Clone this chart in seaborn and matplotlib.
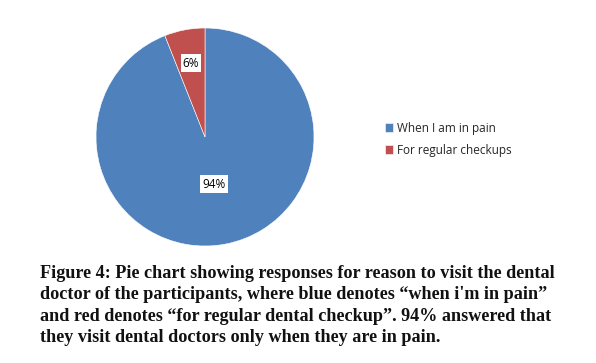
import matplotlib
matplotlib.use("Agg")
import matplotlib.pyplot as plt
import numpy as np
import seaborn as sns

labels = ["When I am in pain", "For regular checkups"]
values = [94, 6]
colors = ["#4F81BD", "#C0504D"]
caption = ("Figure 4: Pie chart showing responses for reason to visit the dental\n"
           "doctor of the participants, where blue denotes \u201cwhen i'm in pain\u201d\n"
           "and red denotes \u201cfor regular dental checkup\u201d. 94% answered that\n"
           "they visit dental doctors only when they are in pain.")

sns.set_theme(style="white")
plt.rcParams['font.family'] = ['Open Sans', 'DejaVu Sans']

fig = plt.figure(figsize=(5.96, 3.63), dpi=100)
W, H = 596, 363
cx, cy, r = 205, 137, 109
ax = fig.add_axes([(cx - r) / W, 1 - (cy + r) / H, 2 * r / W, 2 * r / H])

wedges, texts, autotexts = ax.pie(
    values, colors=sns.color_palette(colors), startangle=90, counterclock=False,
    autopct="%d%%", pctdistance=0.5, radius=1,
    wedgeprops=dict(edgecolor="white", linewidth=0.4),
    textprops=dict(fontsize=8.5, color="black"))
# label distances like the original (best fit placement)
for w, t, d in zip(wedges, autotexts, [0.44, 0.69]):
    ang = np.deg2rad((w.theta1 + w.theta2) / 2)
    t.set_position((d * np.cos(ang), d * np.sin(ang)))
    t.set_bbox(dict(facecolor="white", edgecolor="none", pad=1.5))
ax.set_xlim(-1, 1)
ax.set_ylim(-1, 1)
ax.set_aspect("equal")

fig.legend(wedges, labels, loc="upper left", bbox_to_anchor=(380 / W, 1 - 117 / H),
           frameon=False, fontsize=8.5, handlelength=0.7, handleheight=0.7,
           handletextpad=0.3, labelspacing=0.75, borderaxespad=0)

fig.text(40 / W, 1 - 265 / H, caption, ha="left", va="top",
         family=["Liberation Serif", "DejaVu Serif"], fontweight="bold",
         fontsize=13.1, linespacing=1.33, color="#111111")

fig.savefig("out.png", dpi=100)
